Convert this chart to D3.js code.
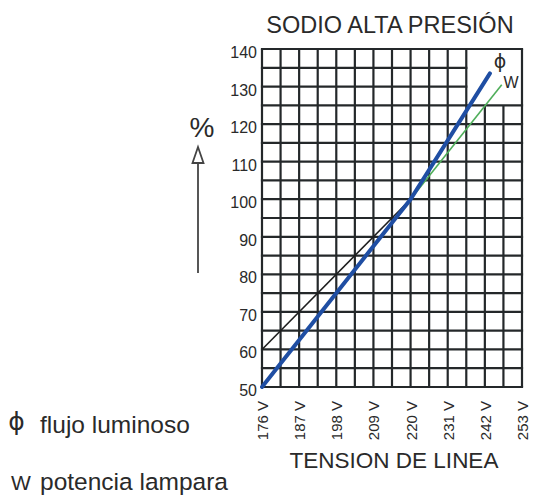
<!DOCTYPE html>
<html>
<head>
<meta charset="utf-8">
<script src="https://cdn.jsdelivr.net/npm/d3@7"></script>
<style>
  body { margin: 0; background: #fff; }
  svg text { font-family: "Liberation Sans", Arial, sans-serif; fill: #2a2a2a; }
  svg text.phi { font-family: "DejaVu Sans", sans-serif; }
</style>
</head>
<body>
<svg id="chart" width="534" height="498"></svg>
<script>
"use strict";

// ==========================
// data
// ==========================
var voltTicks = [176, 187, 198, 209, 220, 231, 242, 253],
    pctTicks = [50, 60, 70, 80, 90, 100, 110, 120, 130, 140];

// flujo luminoso (blue)
var fluxVolt = [176, 220, 243.5],
    fluxPct = [50, 100, 133.5];
// potencia lampara (green)
var powerVolt = [220, 247],
    powerPct = [100, 130.5];
// black reference line
var refVolt = [176, 220],
    refPct = [60, 100];

function zip(xs, ys) {
  return xs.map(function (d, i) { return [d, ys[i]]; });
}

// ==========================
// chart
// ==========================
var svg = d3.select("#chart");

var x = d3.scaleLinear().domain([176, 253]).range([262, 522]),
    y = d3.scaleLinear().domain([50, 140]).range([387, 49]);

var gridColor = "#24282a";

// box with no grid lines, top right (for the Φ / W labels)
var boxV = 236.5, boxP = 125;

var g = svg.append("g");

// vertical grid lines every 5.5 V
d3.range(176, 253.01, 5.5).forEach(function (v) {
  var top = (v > boxV + 0.1 && v < 252.9) ? y(boxP) : y(140);
  g.append("line")
    .attr("x1", x(v)).attr("x2", x(v))
    .attr("y1", top).attr("y2", y(50))
    .attr("stroke", gridColor).attr("stroke-width", 2.2);
});

// horizontal grid lines every 5 %
d3.range(50, 140.01, 5).forEach(function (p) {
  var right = (p > boxP + 0.1 && p < 139.9) ? x(boxV) : x(253);
  g.append("line")
    .attr("x1", x(176) - 1.1).attr("x2", right + 1.1)
    .attr("y1", y(p)).attr("y2", y(p))
    .attr("stroke", gridColor).attr("stroke-width", 2.2);
});

// y tick labels
svg.append("g").selectAll("text").data(pctTicks).enter().append("text")
  .attr("x", 257)
  .attr("y", function (d) { return y(d) + 9; })
  .attr("text-anchor", "end")
  .style("font-size", "16px")
  .text(function (d) { return d; });

// x tick labels (rotated)
svg.append("g").selectAll("text").data(voltTicks).enter().append("text")
  .attr("transform", function (d) { return "translate(" + (x(d) + 6) + ",401) rotate(-90)"; })
  .attr("text-anchor", "end")
  .style("font-size", "15px")
  .text(function (d) { return d + " V"; });

// lines
var line = d3.line()
  .x(function (d) { return x(d[0]); })
  .y(function (d) { return y(d[1]); });

svg.append("path").datum(zip(refVolt, refPct))
  .attr("d", line).attr("fill", "none")
  .attr("stroke", "#1e1e1e").attr("stroke-width", 1.6);

svg.append("path").datum(zip(powerVolt, powerPct))
  .attr("d", line).attr("fill", "none")
  .attr("stroke", "#4fae5a").attr("stroke-width", 1.6);

svg.append("path").datum(zip(fluxVolt, fluxPct))
  .attr("d", line).attr("fill", "none")
  .attr("stroke", "#1f4ea3").attr("stroke-width", 4)
  .attr("stroke-linecap", "round");

// line labels
svg.append("text").attr("class", "phi").attr("x", 500).attr("y", 68)
  .attr("text-anchor", "middle").style("font-size", "19px").text("ɸ");
svg.append("text").attr("x", 511).attr("y", 88)
  .attr("text-anchor", "middle").style("font-size", "16px").text("W");

// titles
svg.append("text").attr("x", 390).attr("y", 33)
  .attr("text-anchor", "middle").style("font-size", "23.5px")
  .text("SODIO ALTA PRESIÓN");

svg.append("text").attr("x", 394).attr("y", 468)
  .attr("text-anchor", "middle").style("font-size", "22.5px")
  .text("TENSION DE LINEA");

// % with arrow
svg.append("text").attr("x", 202).attr("y", 137)
  .attr("text-anchor", "middle").style("font-size", "28px").text("%");

svg.append("line")
  .attr("x1", 198).attr("x2", 198).attr("y1", 163).attr("y2", 273)
  .attr("stroke", "#444").attr("stroke-width", 1.8);
svg.append("path")
  .attr("d", "M198,147 L203.5,163 L192.5,163 Z")
  .attr("fill", "#fff").attr("stroke", "#444").attr("stroke-width", 1.8);

// legend
svg.append("text").attr("class", "phi").attr("x", 16.5).attr("y", 430)
  .attr("text-anchor", "middle").style("font-size", "25px").text("ɸ");
svg.append("text").attr("x", 40).attr("y", 433)
  .style("font-size", "24.5px").text("flujo luminoso");

svg.append("text").attr("x", 21).attr("y", 490)
  .attr("text-anchor", "middle").style("font-size", "21px").text("W");
svg.append("text").attr("x", 40).attr("y", 490)
  .style("font-size", "24.5px").text("potencia lampara");
</script>
</body>
</html>
